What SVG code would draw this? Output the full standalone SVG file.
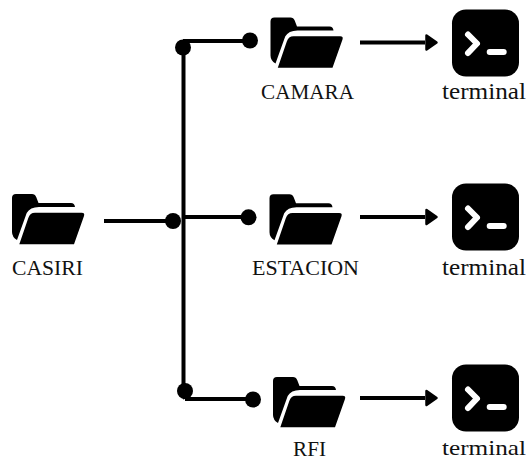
<svg xmlns="http://www.w3.org/2000/svg" width="530" height="460" viewBox="0 0 530 460">
<style>
.w{stroke:#000;stroke-width:4;fill:none;stroke-linecap:butt}
.d{fill:#000}
text{font-family:"Liberation Serif","Times New Roman",serif;font-size:21px;fill:#111;text-anchor:start}
.t{font-size:22.500px}
.low{font-size:20.500px}
.lowt{font-size:21.500px}
</style>
<defs>
<symbol id="folder" overflow="visible">
<path fill="#000" d="M4 0H20Q23 0 24.200 3L26.500 9H59Q62.500 9 63 13H27Q18 13 14.700 19L5 46Q0 43 0 38V4Q0 0 4 0Z"/>
<path fill="#000" d="M23 18.700H69.700Q73 18.700 72 22L62 50.300H7.300L16.300 24Q18 18.700 23 18.700Z"/>
</symbol>
<symbol id="term" overflow="visible">
<rect width="67" height="67" rx="14" fill="#000"/>
<path d="M16 25L25 34L16 43.500" fill="none" stroke="#fff" stroke-width="6" stroke-linecap="round" stroke-linejoin="round"/>
<path d="M37.700 42.500H51.700" fill="none" stroke="#fff" stroke-width="6" stroke-linecap="round"/>
</symbol>
<marker id="arrow" markerUnits="userSpaceOnUse" markerWidth="14" markerHeight="20" refX="0" refY="10" orient="auto">
<path d="M1.500 3L11.500 10L1.500 17Z" fill="#000" stroke="#000" stroke-width="2.500" stroke-linejoin="round"/>
</marker>
</defs>
<g id="connectors">
<path class="w" d="M104 221H173"/>
<circle class="d" cx="173" cy="221" r="8"/>
<path class="w" d="M183.500 47V392L185 399"/>
<path class="w" d="M183 41H250"/>
<circle class="d" cx="183" cy="47.500" r="8"/>
<circle class="d" cx="250" cy="40.500" r="8"/>
<path class="w" d="M184 217H248"/>
<circle class="d" cx="248.500" cy="217.300" r="8"/>
<path class="w" d="M185 399H253"/>
<circle class="d" cx="185" cy="391" r="8"/>
<circle class="d" cx="253" cy="399.500" r="8"/>
<path class="w" d="M360 42.500H425" marker-end="url(#arrow)"/>
<path class="w" d="M360 217H425" marker-end="url(#arrow)"/>
<path class="w" d="M360 398H425" marker-end="url(#arrow)"/>
</g>
<g id="casiri"><use href="#folder" x="12" y="194"/><text x="12" y="275" textLength="71" lengthAdjust="spacingAndGlyphs">CASIRI</text></g>
<g id="camara"><use href="#folder" x="270.500" y="17.500"/><text x="261" y="99" textLength="93" lengthAdjust="spacingAndGlyphs">CAMARA</text></g>
<g id="estacion"><use href="#folder" x="269.500" y="194.300"/><text x="252" y="275" textLength="107" lengthAdjust="spacingAndGlyphs">ESTACION</text></g>
<g id="rfi"><use href="#folder" x="273" y="377"/><text class="low" x="293" y="455.500" textLength="33" lengthAdjust="spacingAndGlyphs">RFI</text></g>
<g id="terminal1"><use href="#term" x="452" y="9.500"/><text class="t" x="442" y="99" textLength="84" lengthAdjust="spacingAndGlyphs">terminal</text></g>
<g id="terminal2"><use href="#term" x="452" y="183.500"/><text class="t" x="442" y="275" textLength="84" lengthAdjust="spacingAndGlyphs">terminal</text></g>
<g id="terminal3"><use href="#term" x="452" y="364.500"/><text class="lowt" x="442" y="455" textLength="84" lengthAdjust="spacingAndGlyphs">terminal</text></g>
</svg>
